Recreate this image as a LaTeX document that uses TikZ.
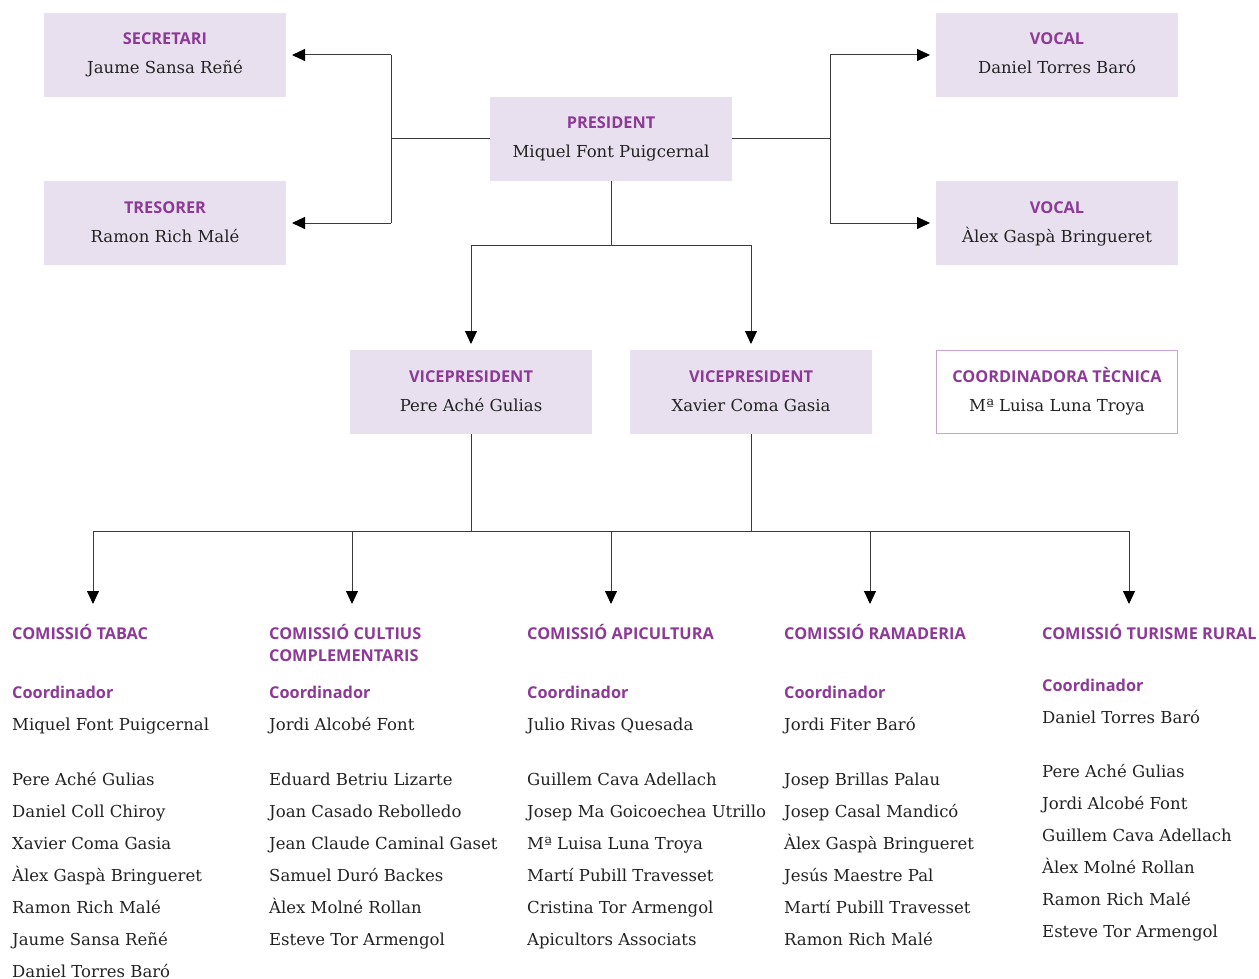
\documentclass[tikz,border=0pt]{standalone}
\usepackage{fontspec}
\setmainfont{DejaVu Serif}
\setsansfont{Open Sans}
\usetikzlibrary{arrows.meta}
\definecolor{purp}{HTML}{8C3A96}
\definecolor{boxfill}{HTML}{E9E0EF}
\definecolor{boxline}{HTML}{C7A3D1}
\definecolor{txt}{HTML}{222222}
\definecolor{ln}{HTML}{3A3A3A}
\begin{document}
\begin{tikzpicture}[x=1pt,y=-1pt,
  box/.style={draw=none,fill=boxfill,minimum width=242pt,minimum height=84pt,inner sep=0pt},
  wbox/.style={draw=boxline,line width=1pt,fill=white,minimum width=241pt,minimum height=83pt,inner sep=0pt},
  ttl/.style={anchor=base,inner sep=0pt,font=\sffamily\bfseries\fontsize{16.3}{18}\selectfont,text=purp},
  nm/.style={anchor=base,inner sep=0pt,font=\fontsize{16.5}{20}\selectfont,text=txt},
  hd/.style={anchor=base west,inner sep=0pt,font=\sffamily\bfseries\fontsize{16.3}{18}\selectfont,text=purp},
  it/.style={anchor=base west,inner sep=0pt,font=\fontsize{16.5}{20}\selectfont,text=txt},
  conn/.style={draw=ln,line width=1pt},
  arr/.style={conn,-{Triangle[length=13pt,width=12pt,color=black]}}
]
\useasboundingbox (0,0) rectangle (1259,979);
% boxes
\node[box] (sec) at (165,55) {};
\node[ttl] (secT) at (165,45) {SECRETARI};
\node[nm] (secN) at (165,74) {Jaume Sansa Reñé};
\node[box] (tre) at (165,223) {};
\node[ttl] (treT) at (165,213) {TRESORER};
\node[nm] (treN) at (165,242) {Ramon Rich Malé};
\node[box] (pres) at (611,139) {};
\node[ttl] (presT) at (611,129) {PRESIDENT};
\node[nm] (presN) at (611,158) {Miquel Font Puigcernal};
\node[box] (voc1) at (1057,55) {};
\node[ttl] (voc1T) at (1057,45) {VOCAL};
\node[nm] (voc1N) at (1057,74) {Daniel Torres Baró};
\node[box] (voc2) at (1057,223) {};
\node[ttl] (voc2T) at (1057,213) {VOCAL};
\node[nm] (voc2N) at (1057,242) {Àlex Gaspà Bringueret};
\node[box] (vp1) at (471,392) {};
\node[ttl] (vp1T) at (471,382) {VICEPRESIDENT};
\node[nm] (vp1N) at (471,411) {Pere Aché Gulias};
\node[box] (vp2) at (751,392) {};
\node[ttl] (vp2T) at (751,382) {VICEPRESIDENT};
\node[nm] (vp2N) at (751,411) {Xavier Coma Gasia};
\node[wbox] (coord) at (1057,392) {};
\node[ttl] (coordT) at (1057,382) {COORDINADORA TÈCNICA};
\node[nm] (coordN) at (1057,411) {Mª Luisa Luna Troya};
% targets
\coordinate (aSec) at (292,55);
\coordinate (aTre) at (292,223);
\coordinate (aV1) at (930,55);
\coordinate (aV2) at (930,223);
\coordinate (aVP1) at (471,344);
\coordinate (aVP2) at (751,344);
\coordinate (c1) at (93,604);
\coordinate (c2) at (352,604);
\coordinate (c3) at (611,604);
\coordinate (c4) at (870,604);
\coordinate (c5) at (1129,604);
% connectors
\draw[conn] (pres.west) -- (391,139);
\draw[arr] (391,55) -- (aSec);
\draw[arr] (391,223) -- (aTre);
\draw[conn] (391,55) -- (391,223);
\draw[conn] (pres.east) -- (830,139);
\draw[conn] (830,55) -- (830,223);
\draw[arr] (830,55) -- (aV1);
\draw[arr] (830,223) -- (aV2);
\draw[conn] (pres.south) -- (611,245);
\draw[conn] (471,245) -- (751,245);
\draw[arr] (471,245) -- (aVP1);
\draw[arr] (751,245) -- (aVP2);
\draw[conn] (vp1.south) -- (471,531);
\draw[conn] (vp2.south) -- (751,531);
\draw[conn] (93,531) -- (1129,531);
\draw[arr] (93,531) -- (c1);
\draw[arr] (352,531) -- (c2);
\draw[arr] (611,531) -- (c3);
\draw[arr] (870,531) -- (c4);
\draw[arr] (1129,531) -- (c5);
% column 1
\node[hd] (h1) at (12,639) {COMISSIÓ TABAC};
\node[hd] (k1) at (12,698) {Coordinador};
\node[it] (n1) at (12,730) {Miquel Font Puigcernal};
\node[it] (m11) at (12,785) {Pere Aché Gulias};
\node[it] (m12) at (12,817) {Daniel Coll Chiroy};
\node[it] (m13) at (12,849) {Xavier Coma Gasia};
\node[it] (m14) at (12,881) {Àlex Gaspà Bringueret};
\node[it] (m15) at (12,913) {Ramon Rich Malé};
\node[it] (m16) at (12,945) {Jaume Sansa Reñé};
\node[it] (m17) at (12,977) {Daniel Torres Baró};
% column 2
\node[hd] (h2) at (269,639) {COMISSIÓ CULTIUS};
\node[hd] (h2b) at (269,661) {COMPLEMENTARIS};
\node[hd] (k2) at (269,698) {Coordinador};
\node[it] (n2) at (269,730) {Jordi Alcobé Font};
\node[it] (m21) at (269,785) {Eduard Betriu Lizarte};
\node[it] (m22) at (269,817) {Joan Casado Rebolledo};
\node[it] (m23) at (269,849) {Jean Claude Caminal Gaset};
\node[it] (m24) at (269,881) {Samuel Duró Backes};
\node[it] (m25) at (269,913) {Àlex Molné Rollan};
\node[it] (m26) at (269,945) {Esteve Tor Armengol};
% column 3
\node[hd] (h3) at (527,639) {COMISSIÓ APICULTURA};
\node[hd] (k3) at (527,698) {Coordinador};
\node[it] (n3) at (527,730) {Julio Rivas Quesada};
\node[it] (m31) at (527,785) {Guillem Cava Adellach};
\node[it] (m32) at (527,817) {Josep Ma Goicoechea Utrillo};
\node[it] (m33) at (527,849) {Mª Luisa Luna Troya};
\node[it] (m34) at (527,881) {Martí Pubill Travesset};
\node[it] (m35) at (527,913) {Cristina Tor Armengol};
\node[it] (m36) at (527,945) {Apicultors Associats};
% column 4
\node[hd] (h4) at (784,639) {COMISSIÓ RAMADERIA};
\node[hd] (k4) at (784,698) {Coordinador};
\node[it] (n4) at (784,730) {Jordi Fiter Baró};
\node[it] (m41) at (784,785) {Josep Brillas Palau};
\node[it] (m42) at (784,817) {Josep Casal Mandicó};
\node[it] (m43) at (784,849) {Àlex Gaspà Bringueret};
\node[it] (m44) at (784,881) {Jesús Maestre Pal};
\node[it] (m45) at (784,913) {Martí Pubill Travesset};
\node[it] (m46) at (784,945) {Ramon Rich Malé};
% column 5
\node[hd] (h5) at (1042,639) {COMISSIÓ TURISME RURAL};
\node[hd] (k5) at (1042,691) {Coordinador};
\node[it] (n5) at (1042,723) {Daniel Torres Baró};
\node[it] (m51) at (1042,777) {Pere Aché Gulias};
\node[it] (m52) at (1042,809) {Jordi Alcobé Font};
\node[it] (m53) at (1042,841) {Guillem Cava Adellach};
\node[it] (m54) at (1042,873) {Àlex Molné Rollan};
\node[it] (m55) at (1042,905) {Ramon Rich Malé};
\node[it] (m56) at (1042,937) {Esteve Tor Armengol};
\end{tikzpicture}
\end{document}
